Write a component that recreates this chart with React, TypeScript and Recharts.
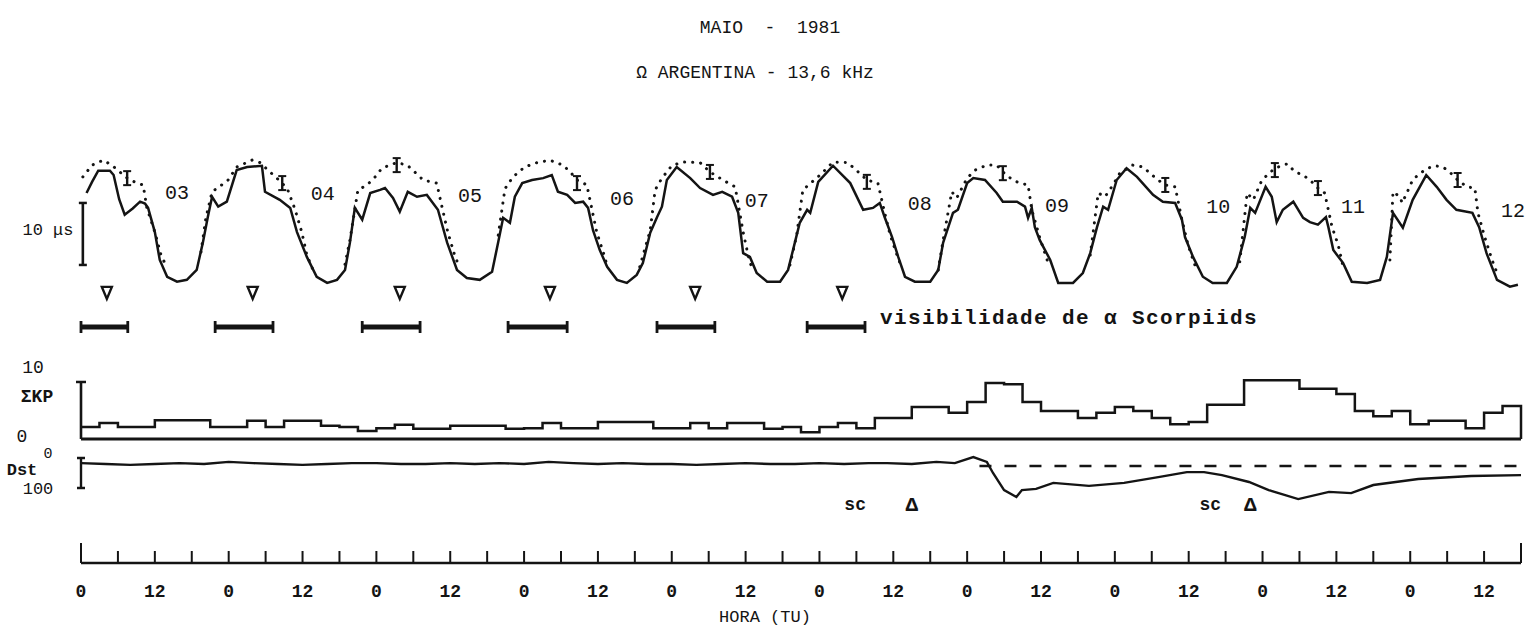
import React from "react";
import { ComposedChart, Line, Scatter, XAxis, YAxis, ReferenceLine } from "recharts";

const INK = "#141414";
const MONO = '"Liberation Mono", "DejaVu Sans Mono", monospace';

// ---------- data (hours from 02 May 00 TU) ----------

// VLF phase, micro-seconds above the night level
const phaseTrace: [number, number][] = [
  [0.9, 14.5], [1.8, 16.3], [2.8, 18.1], [4.7, 18.1], [5.3, 17.4], [6.2, 13.5], [7.1, 11.0], [8.4, 12.0],
  [9.6, 13.1], [10.4, 12.8], [10.9, 12.1], [12.0, 8.2], [12.8, 3.7], [14.0, 1.0], [15.6, 0.2], [17.2, 0.5],
  [18.8, 2.1], [19.8, 6.5], [20.6, 10.6], [21.3, 13.9], [22.3, 12.3], [23.7, 13.1],
  [25.3, 18.2], [27.0, 18.7], [29.4, 18.9], [29.9, 14.7], [32.3, 13.4], [34.0, 12.1], [35.1, 8.2], [36.7, 4.2],
  [38.3, 1.0], [40.0, 0], [41.6, 0.5], [42.9, 2.1], [43.7, 6.5], [44.5, 12.1], [45.7, 10.2], [47.0, 14.5],
  [48.6, 15.0], [49.4, 15.3], [50.7, 13.7], [51.8, 11.5], [53.1, 14.7], [54.6, 13.9], [56.2, 14.2], [58.0, 11.8],
  [59.5, 6.5], [61.1, 2.1], [62.7, 0.8], [64.8, 0.5], [66.8, 1.8], [67.8, 6.6], [68.6, 10.5], [69.7, 9.7],
  [70.5, 13.9], [71.7, 16.1], [73.3, 16.6], [75.1, 16.9], [76.5, 17.4], [77.5, 14.7], [79.0, 14.2], [80.3, 12.9],
  [81.6, 13.1], [82.4, 12.1], [83.2, 8.5], [84.3, 5.3], [85.5, 2.6], [87.1, 0.5], [88.7, 0], [90.3, 1.3],
  [91.3, 3.2], [92.5, 8.1], [93.6, 10.6], [94.4, 12.3], [95.2, 16.6], [96.8, 18.7], [99.0, 16.9], [100.6, 15.3],
  [102.7, 14.2], [104.2, 14.7], [105.8, 13.9], [106.8, 11.3], [107.6, 4.8], [108.7, 4.2], [109.8, 1.6], [111.5, 0.2],
  [113.6, 0.2], [114.9, 2.1], [115.7, 5.3], [116.8, 9.7], [118.0, 11.8], [118.5, 11.3], [119.8, 16.3], [122.2, 18.9],
  [125.0, 16.1], [127.1, 11.8], [128.7, 12.1], [129.8, 12.9], [130.6, 10.6], [131.8, 7.4], [132.8, 4.2], [133.9, 1.0],
  [135.5, 0.2], [138.0, 0.2], [139.3, 2.1], [140.1, 6.5], [141.7, 11.3], [142.5, 11.8], [144.0, 16.1], [145.0, 16.9],
  [146.9, 16.6], [148.8, 14.5], [149.8, 13.1], [152.1, 13.1], [153.4, 12.3], [153.9, 10.5], [154.5, 12.1], [155.0, 9.0],
  [155.8, 6.9], [157.5, 3.7], [158.8, 0], [161.2, 0], [162.8, 1.6], [164.0, 4.8], [165.1, 9.0], [166.1, 12.3],
  [166.9, 11.8], [168.3, 16.6], [169.9, 18.5], [171.6, 17.1], [174.2, 14.2], [175.8, 13.1], [177.8, 12.9], [178.9, 10.2],
  [179.4, 7.4], [180.7, 4.2], [182.3, 1.0], [183.9, 0], [186.2, 0], [187.8, 2.6], [189.1, 7.4], [190.0, 12.1],
  [190.8, 11.3], [192.5, 15.5], [193.5, 13.9], [194.3, 9.8], [195.3, 11.8], [197.0, 13.1], [198.6, 10.5], [199.7, 9.8],
  [201.0, 9.4], [202.3, 10.6], [202.7, 9.0], [203.5, 5.3], [205.1, 3.2], [206.5, 0.2], [209.0, 0], [211.1, 0.5],
  [212.2, 4.2], [213.2, 11.3], [214.8, 8.9], [216.4, 13.4], [218.6, 17.4], [220.3, 15.5], [221.9, 13.4], [223.5, 11.8],
  [226.1, 11.3], [227.2, 9.0], [228.4, 4.8], [230.1, 0.5], [232.2, -0.6], [233.5, -0.3],
];

// quiet-day reference (dotted), one list per daytime hump
const quietHumps: [number, number][][] = [
  [[0.3, 17.1], [1.8, 19.0], [3.6, 19.8], [5.0, 19.0], [6.3, 17.9], [7.5, 16.9], [9.1, 16.1], [10.1, 15.8], [10.7, 12.1], [12.0, 8.2], [13.0, 4.5], [14.0, 2.4]],
  [[19.5, 5.0], [20.3, 10.5], [21.3, 14.7], [22.6, 15.6], [23.9, 16.6], [25.3, 18.7], [27.8, 19.8], [29.1, 19.4], [30.7, 17.9], [32.7, 16.1], [33.6, 15.0], [34.8, 11.8], [35.9, 8.1], [36.7, 4.5], [37.7, 2.1]],
  [[42.9, 3.0], [43.7, 6.9], [45.0, 15.0], [46.5, 15.8], [47.8, 17.1], [48.9, 18.5], [50.2, 19.0], [51.3, 19.4], [53.0, 19.0], [53.9, 18.2], [55.6, 16.6], [57.8, 16.1], [58.7, 12.1], [59.6, 8.2], [60.8, 4.2], [61.6, 2.4]],
  [[67.8, 7.7], [68.9, 15.2], [70.2, 17.1], [72.1, 18.7], [74.1, 19.4], [76.2, 19.8], [78.3, 19.0], [79.5, 17.9], [80.6, 16.6], [82.2, 15.8], [83.8, 8.2], [85.0, 4.5], [85.6, 2.4]],
  [[90.8, 2.6], [92.5, 8.5], [93.3, 15.0], [94.4, 16.9], [96.0, 18.9], [97.8, 19.5], [100.6, 19.4], [102.2, 17.9], [104.3, 16.6], [106.3, 15.5], [107.6, 8.2], [108.4, 4.5], [109.0, 2.4]],
  [[115.2, 2.9], [116.3, 7.7], [117.3, 15.0], [120.1, 17.4], [122.2, 19.5], [124.6, 19.4], [126.3, 17.9], [127.7, 16.6], [129.5, 16.1], [130.6, 11.3], [131.5, 7.7], [132.6, 4.5], [133.4, 2.4]],
  [[139.3, 2.1], [140.1, 6.9], [141.5, 14.7], [142.3, 13.7], [144.0, 16.9], [145.3, 18.2], [147.2, 19.0], [148.8, 19.0], [149.8, 17.9], [151.4, 16.6], [152.6, 16.1], [153.9, 15.8], [154.5, 11.8], [155.8, 7.3], [157.1, 3.4]],
  [[164.0, 4.5], [165.3, 14.5], [166.4, 13.9], [167.7, 15.8], [168.8, 17.7], [170.9, 19.0], [172.6, 18.7], [173.7, 17.7], [175.0, 16.6], [176.2, 15.8], [177.8, 15.5], [178.9, 10.2], [179.9, 6.1], [181.0, 2.9]],
  [[188.3, 3.4], [189.5, 14.5], [190.5, 13.4], [191.9, 16.6], [194.0, 18.5], [196.0, 19.2], [197.3, 17.9], [198.6, 17.4], [200.0, 16.3], [201.0, 15.3], [202.1, 14.5], [203.3, 9.0], [204.3, 6.1], [205.1, 2.6]],
  [[212.7, 3.7], [213.2, 14.7], [214.3, 13.9], [214.7, 12.9], [216.4, 16.6], [217.6, 17.7], [218.9, 18.5], [220.0, 18.9], [221.3, 18.7], [222.4, 17.9], [223.7, 16.6], [225.2, 15.5], [226.5, 15.3], [227.0, 11.3], [228.1, 7.4], [229.3, 3.7], [230.1, 1.6]],
];

// error bars on the quiet-day curve
const errorMarks: [number, number][] = [
  [7.5, 16.9], [32.7, 16.1], [51.3, 19.0], [80.6, 16.1], [102.2, 17.9], [127.7, 16.3],
  [149.8, 17.7], [176.2, 15.8], [194.0, 18.2], [201.0, 15.3], [223.7, 16.6],
];

const dayLabels = ["03", "04", "05", "06", "07", "08", "09", "10", "11", "12"];
const dayLabelHours = [15.6, 39.3, 63.2, 87.9, 109.8, 136.3, 158.6, 184.8, 206.7, 232.7];
const dayLabelLevels = [14.5, 14.2, 13.9, 13.4, 13.1, 12.6, 12.3, 12.1, 12.1, 11.5];

// alpha Scorpiids: radiant transit and visibility windows
const meteorPeaks = [4.2, 27.9, 51.8, 76.2, 99.8, 123.7];
const meteorWindows: [number, number][] = [
  [0, 7.6], [21.8, 31.2], [45.7, 55.1], [69.4, 79.0], [93.6, 103.0], [118.0, 127.4],
];

// 3-hourly sum of Kp
const kpValues = [
  2.1, 2.8, 2.1, 2.1, 3.3, 3.3, 3.3, 2.1, 2.1, 3.2,
  2.1, 3.2, 3.2, 2.3, 2.1, 1.4, 1.9, 2.5, 1.8, 1.8,
  2.3, 2.3, 2.3, 1.8, 1.9, 2.8, 1.9, 1.9, 3.0, 3.0,
  3.0, 1.9, 1.9, 2.8, 1.9, 2.8, 2.8, 1.8, 2.1, 1.2,
  2.1, 2.8, 1.9, 3.7, 3.7, 5.6, 5.6, 4.6, 6.5, 9.8,
  9.6, 6.5, 4.9, 4.9, 3.7, 4.6, 5.6, 4.9, 3.7, 2.6,
  3.0, 6.0, 6.0, 10.3, 10.3, 10.3, 8.8, 8.8, 7.9, 4.9,
  4.0, 4.9, 2.6, 3.2, 3.2, 1.9, 4.6, 5.8,
];

// Dst (nT)
const dstTrace: [number, number][] = [
  [0, -17], [4, -20], [8, -23], [12, -20], [16, -17], [20, -20], [24, -13], [28, -17], [32, -20], [36, -23],
  [40, -20], [44, -17], [48, -17], [52, -20], [56, -20], [60, -17], [64, -20], [68, -17], [72, -20], [76, -13],
  [80, -17], [84, -20], [88, -17], [92, -20], [96, -20], [100, -23], [104, -20], [108, -17], [112, -20], [116, -20],
  [120, -17], [124, -20], [128, -17], [131, -17], [135, -20], [139, -13], [142, -17], [145, 3], [147.2, -13],
  [148.2, -50], [150, -107], [152, -130], [152.9, -107], [155.2, -103], [158, -83], [163.8, -93], [169.5, -83],
  [175.3, -63], [179.7, -47], [182.5, -47], [185.4, -57], [189.8, -80], [193, -107], [197.8, -137], [202.8, -113],
  [206.4, -117], [210, -90], [217.3, -70], [225.9, -60], [234, -57],
];
const dstQuietLevel = -27;
const dstQuietFrom = 146;
const scHours = [125.8, 183.5];
const scDeltaHours = [135, 190];

const hourTicks = [
  0, 6, 12, 18, 24, 30, 36, 42, 48, 54, 60, 66, 72, 78, 84, 90, 96, 102, 108, 114,
  120, 126, 132, 138, 144, 150, 156, 162, 168, 174, 180, 186, 192, 198, 204, 210, 216, 222, 228, 234,
];
const hourLabel: Record<number, string> = { 0: "0", 12: "12" };

// ---------- layout ----------
const W = 1534;
const M = { top: 0, right: 13, bottom: 0, left: 81 };
const X_DOMAIN: [number, number] = [0, 234];
const TRIANGLE_ROW = -1.6;
const WINDOW_ROW = -7.1;
const SC_ROW = -157;

const pts = (arr: [number, number][]) => arr.map(([h, v]) => ({ h, v }));

const quietData = quietHumps.flatMap((hump, i) =>
  i === 0 ? pts(hump) : [{ h: (hump[0][0] + quietHumps[i - 1][quietHumps[i - 1].length - 1][0]) / 2, v: null }, ...pts(hump)]
);

const kpData = [...kpValues.map((v, i) => ({ h: i * 3, v })), { h: 234, v: 0 }];

const hCap = (half: number, w = 2.5) => (p: any) => (
  <line key={`c${p.index}`} x1={p.cx - half} x2={p.cx + half} y1={p.cy} y2={p.cy} stroke={INK} strokeWidth={w} />
);
const vCap = (half: number, w = 2.5) => (p: any) => (
  <line key={`c${p.index}`} x1={p.cx} x2={p.cx} y1={p.cy - half} y2={p.cy + half} stroke={INK} strokeWidth={w} />
);

const IBeam = (p: any) => (
  <g>
    <line x1={p.cx} x2={p.cx} y1={p.cy - 7} y2={p.cy + 7} stroke={INK} strokeWidth={2.4} />
    <line x1={p.cx - 4} x2={p.cx + 4} y1={p.cy - 7} y2={p.cy - 7} stroke={INK} strokeWidth={2} />
    <line x1={p.cx - 4} x2={p.cx + 4} y1={p.cy + 7} y2={p.cy + 7} stroke={INK} strokeWidth={2} />
  </g>
);

const DownTriangle = (p: any) => (
  <path
    d={`M${p.cx - 5},${p.cy - 6} L${p.cx + 5},${p.cy - 6} L${p.cx},${p.cy + 6} Z`}
    fill="#fff"
    stroke={INK}
    strokeWidth={2.4}
  />
);

const TextMark = (size: number, bold = false) => (p: any) => (
  <text
    x={p.cx}
    y={p.cy}
    textAnchor="middle"
    dominantBaseline="central"
    fontFamily={MONO}
    fontSize={size}
    fontWeight={bold ? 700 : 400}
    fill={INK}
  >
    {p.payload.label}
  </text>
);

const HourTick = (p: any) => {
  const h = p.payload.value;
  const end = h === X_DOMAIN[0] || h === X_DOMAIN[1];
  const lab = hourLabel[h % 24];
  return (
    <g>
      <line x1={p.x} x2={p.x} y1={p.y - (end ? 20 : 12)} y2={p.y} stroke={INK} strokeWidth={2} />
      {lab && (
        <text x={p.x} y={p.y + 29} textAnchor="middle" dominantBaseline="central" fontFamily={MONO} fontSize={18} fontWeight={700} fill={INK}>
          {lab}
        </text>
      )}
    </g>
  );
};

function Txt({ x, y, children, size = 17, bold = false, anchor = "center", spacing = 0 }: any) {
  const tx = anchor === "center" ? "-50%" : "0";
  return (
    <div
      style={{
        position: "absolute",
        left: x,
        top: y,
        transform: `translate(${tx}, -50%)`,
        fontFamily: MONO,
        fontSize: size,
        fontWeight: bold ? 700 : 400,
        letterSpacing: spacing,
        whiteSpace: "nowrap",
        color: INK,
        lineHeight: 1,
      }}
    >
      {children}
    </div>
  );
}

export default function App() {
  return (
    <div style={{ position: "absolute", left: 0, top: 0, width: W, height: 633, background: "#fff", overflow: "hidden" }}>
      <Txt x={770} y={28} size={18}>MAIO&nbsp;&nbsp;-&nbsp;&nbsp;1981</Txt>
      <Txt x={755} y={73} size={18}>Ω ARGENTINA - 13,6 kHz</Txt>

      {/* VLF phase panel */}
      <div style={{ position: "absolute", left: 0, top: 140 }}>
        <ComposedChart width={W} height={200} margin={M}>
          <XAxis type="number" dataKey="h" domain={X_DOMAIN} hide />
          <YAxis type="number" dataKey="v" domain={[-9.2, 23.05]} hide />
          <Line
            data={quietData}
            dataKey="v"
            type="linear"
            stroke={INK}
            strokeWidth={3}
            strokeDasharray="0.1 8"
            strokeLinecap="round"
            dot={false}
            connectNulls={false}
            isAnimationActive={false}
          />
          <Line data={pts(phaseTrace)} dataKey="v" type="linear" stroke={INK} strokeWidth={2.5} dot={false} isAnimationActive={false} />
          <Line
            data={[{ h: 0.3, v: 2.9 }, { h: 0.3, v: 12.9 }]}
            dataKey="v"
            stroke={INK}
            strokeWidth={2.6}
            dot={hCap(4)}
            isAnimationActive={false}
          />
          <Scatter data={pts(errorMarks)} dataKey="v" shape={IBeam} isAnimationActive={false} />
          <Scatter
            data={dayLabels.map((label, i) => ({ h: dayLabelHours[i], v: dayLabelLevels[i], label }))}
            dataKey="v"
            shape={TextMark(20)}
            isAnimationActive={false}
          />
          <Scatter data={meteorPeaks.map((h) => ({ h, v: TRIANGLE_ROW }))} dataKey="v" shape={DownTriangle} isAnimationActive={false} />
          {meteorWindows.map(([a, b], i) => (
            <Line
              key={`w${i}`}
              data={[{ h: a, v: WINDOW_ROW }, { h: b, v: WINDOW_ROW }]}
              dataKey="v"
              stroke={INK}
              strokeWidth={5}
              dot={vCap(6, 2.8)}
              isAnimationActive={false}
            />
          ))}
        </ComposedChart>
      </div>
      <Txt x={48} y={230} size={17}>10 μs</Txt>
      <Txt x={880} y={318} size={21} bold spacing={1.4} anchor="left">visibilidade de α Scorpiids</Txt>

      {/* Sum Kp panel */}
      <div style={{ position: "absolute", left: 0, top: 372 }}>
        <ComposedChart width={W} height={72} margin={M}>
          <XAxis type="number" dataKey="h" domain={X_DOMAIN} hide />
          <YAxis type="number" dataKey="v" domain={[-0.88, 11.75]} hide />
          <ReferenceLine y={0} stroke={INK} strokeWidth={3} />
          <Line data={kpData} dataKey="v" type="stepAfter" stroke={INK} strokeWidth={2.5} dot={false} isAnimationActive={false} />
          <Line
            data={[{ h: 0, v: 0 }, { h: 0, v: 10 }]}
            dataKey="v"
            stroke={INK}
            strokeWidth={2.6}
            dot={(p: any) => (p.index === 1 ? hCap(5)(p) : <g key={`c${p.index}`} />)}
            isAnimationActive={false}
          />
        </ComposedChart>
      </div>
      <Txt x={33} y={368} size={18}>10</Txt>
      <Txt x={37} y={397} size={18} bold>ΣKP</Txt>
      <Txt x={22} y={437} size={18}>0</Txt>

      {/* Dst panel + time axis */}
      <div style={{ position: "absolute", left: 0, top: 440 }}>
        <ComposedChart width={W} height={183} margin={{ ...M, bottom: 0 }}>
          <XAxis
            type="number"
            dataKey="h"
            domain={X_DOMAIN}
            ticks={hourTicks}
            interval={0}
            tickSize={0}
            tickMargin={0}
            tick={HourTick}
            axisLine={{ stroke: INK, strokeWidth: 2.5 }}
            tickLine={false}
            height={60}
          />
          <YAxis type="number" dataKey="v" domain={[-350, 60]} hide />
          <Line
            data={[{ h: dstQuietFrom, v: dstQuietLevel }, { h: X_DOMAIN[1], v: dstQuietLevel }]}
            dataKey="v"
            stroke={INK}
            strokeWidth={2.5}
            strokeDasharray="12 13"
            dot={false}
            isAnimationActive={false}
          />
          <Line data={pts(dstTrace)} dataKey="v" type="linear" stroke={INK} strokeWidth={2.4} dot={false} isAnimationActive={false} />
          <Line
            data={[{ h: 0, v: 0 }, { h: 0, v: -100 }]}
            dataKey="v"
            stroke={INK}
            strokeWidth={2.4}
            dot={hCap(4)}
            isAnimationActive={false}
          />
          <Scatter data={scHours.map((h) => ({ h, v: SC_ROW, label: "sc" }))} dataKey="v" shape={TextMark(18, true)} isAnimationActive={false} />
          <Scatter data={scDeltaHours.map((h) => ({ h, v: SC_ROW, label: "Δ" }))} dataKey="v" shape={TextMark(21, true)} isAnimationActive={false} />
        </ComposedChart>
      </div>
      <Txt x={22} y={470} size={17} bold>Dst</Txt>
      <Txt x={48} y={454} size={15}>0</Txt>
      <Txt x={38} y={489} size={17}>100</Txt>
      <Txt x={765} y={617} size={17}>HORA (TU)</Txt>
    </div>
  );
}
